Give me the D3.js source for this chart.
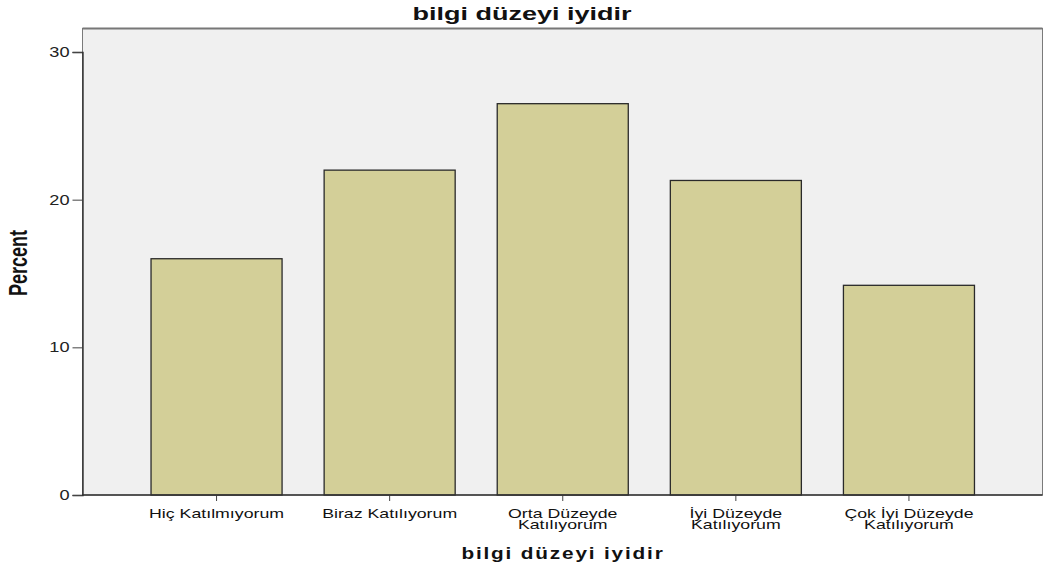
<!DOCTYPE html>
<html>
<head>
<meta charset="utf-8">
<script src="https://cdn.jsdelivr.net/npm/d3@7/dist/d3.min.js"></script>
<style>
  html, body { margin: 0; padding: 0; background: #ffffff; }
  svg { display: block; }
  text { font-family: "Liberation Sans", Arial, sans-serif; }
</style>
</head>
<body>
<svg id="chart" width="1044" height="570"></svg>
<script>
// Response categories (two-line labels split with "\n")
const categories = [
  "Hiç Katılmıyorum",
  "Biraz Katılıyorum",
  "Orta Düzeyde\nKatılıyorum",
  "İyi Düzeyde\nKatılıyorum",
  "Çok İyi Düzeyde\nKatılıyorum"
];
// Percent of respondents per category
const percents = [16.0, 22.0, 26.5, 21.3, 14.2];
const yTicks = [0, 10, 20, 30];
const chartTitle = "bilgi düzeyi iyidir";
const xTitle = "bilgi düzeyi iyidir";
const yTitle = "Percent";

const svg = d3.select("#chart");

const plot = { left: 82.5, top: 28.5, right: 1042.5, bottom: 495 };
// text in this chart is drawn wide
const stretch = 1.3;

const x = d3.scaleBand()
  .domain(categories)
  .range([130, 995.5])
  .paddingInner(0.243)
  .paddingOuter(0.1215);

const y = d3.scaleLinear()
  .domain([0, 30])
  .range([plot.bottom, 52]);

// plot background
svg.append("rect")
  .attr("x", plot.left)
  .attr("y", plot.top)
  .attr("width", plot.right - plot.left)
  .attr("height", plot.bottom - plot.top)
  .attr("fill", "#f0f0f0")
  .attr("stroke", "#7a7a7a")
  .attr("stroke-width", 1);
svg.append("line")
  .attr("x1", plot.left).attr("x2", plot.right)
  .attr("y1", plot.top).attr("y2", plot.top)
  .attr("stroke", "#777").attr("stroke-width", 2);

// bars
svg.append("g")
  .selectAll("rect")
  .data(categories.map((c, i) => ({ c, v: percents[i] })))
  .join("rect")
  .attr("x", d => x(d.c))
  .attr("y", d => y(d.v))
  .attr("width", x.bandwidth())
  .attr("height", d => y(0) - y(d.v))
  .attr("fill", "#d3cf98")
  .attr("stroke", "#2a2a2a")
  .attr("stroke-width", 1.3);

// y axis
const yAxis = svg.append("g")
  .attr("transform", `translate(${plot.left},0)`)
  .call(d3.axisLeft(y).tickValues(yTicks).tickSize(10).tickPadding(3).tickFormat(d3.format("d")));
yAxis.select(".domain").attr("stroke", "#222").attr("stroke-width", 1.3);
yAxis.selectAll(".tick line").attr("stroke", "#444");
yAxis.selectAll(".tick text")
  .attr("x", 0)
  .attr("transform", `translate(-13,0) scale(${stretch},1)`)
  .attr("font-size", 14)
  .attr("fill", "#222")
  .attr("font-family", "'Liberation Sans', Arial, sans-serif");

// x axis
const xAxis = svg.append("g")
  .attr("transform", `translate(0,${plot.bottom})`)
  .call(d3.axisBottom(x).tickSize(6).tickFormat(""));
xAxis.select(".domain").remove();
svg.append("line")
  .attr("x1", plot.left).attr("x2", plot.right)
  .attr("y1", plot.bottom).attr("y2", plot.bottom)
  .attr("stroke", "#333").attr("stroke-width", 1.3);
xAxis.selectAll(".tick line").attr("stroke", "#444");

xAxis.selectAll(".tick")
  .append("text")
  .attr("fill", "#111")
  .attr("font-size", 13)
  .attr("text-anchor", "middle")
  .attr("transform", `scale(${stretch * 1.05},1)`)
  .attr("font-family", "'Liberation Sans', Arial, sans-serif")
  .each(function(d) {
    const lines = d.split("\n");
    d3.select(this).selectAll("tspan")
      .data(lines)
      .join("tspan")
      .attr("x", 0)
      .attr("y", (l, i) => 23 + i * 11.5)
      .text(l => l);
  });

// titles
svg.append("text")
  .attr("transform", `translate(522,20) scale(1.5,1)`)
  .attr("text-anchor", "middle")
  .attr("font-size", 18)
  .attr("font-weight", "bold")
  .attr("fill", "#111")
  .text(chartTitle);

svg.append("text")
  .attr("transform", `translate(563,559) scale(${stretch},1)`)
  .attr("text-anchor", "middle")
  .attr("font-size", 16)
  .attr("font-weight", "bold")
  .attr("letter-spacing", 1.4)
  .attr("fill", "#111")
  .text(xTitle);

svg.append("text")
  .attr("transform", "translate(27,263) scale(1.45,1) rotate(-90)")
  .attr("text-anchor", "middle")
  .attr("font-size", 18)
  .attr("font-weight", "bold")
  .attr("fill", "#111")
  .text(yTitle);
</script>
</body>
</html>
